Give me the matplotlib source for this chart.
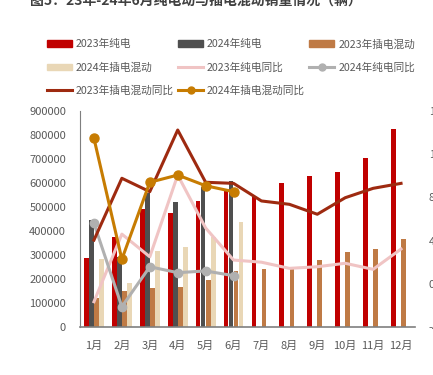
import matplotlib
matplotlib.use("Agg")
import matplotlib.pyplot as plt
import numpy as np
from matplotlib.patches import Patch
from matplotlib.lines import Line2D

plt.rcParams['font.family'] = ['Noto Sans CJK SC', 'DejaVu Sans']

months = ['1月', '2月', '3月', '4月', '5月', '6月', '7月', '8月', '9月', '10月', '11月', '12月']
bev_2023 = [289000, 376000, 492000, 474000, 525000, 568000, 543000, 599000, 629000, 647000, 703000, 825000]
bev_2024 = [446000, 292000, 560000, 520000, 585000, 610000]
phev_2023 = [120000, 150000, 164000, 167000, 196000, 235000, 240000, 244000, 279000, 311000, 325000, 365000]
phev_2024 = [285000, 185000, 318000, 335000, 374000, 439000]
bev_yoy_2023 = [-16.6, 46, 25, 100.7, 51.7, 22, 20, 14.3, 15.8, 19, 13.4, 32.2]
bev_yoy_2024 = [56, -21.2, 15.8, 10.3, 11.9, 7.5]
phev_yoy_2023 = [40.5, 97.7, 85.3, 142.4, 94, 93, 76.7, 73.6, 64.4, 79.7, 88.4, 93]
phev_yoy_2024 = [134.7, 22.7, 94, 100.7, 90.8, 85.3]

left_ticks = [0, 100000, 200000, 300000, 400000, 500000, 600000, 700000, 800000, 900000]
right_ticks = [-40, 0, 40, 80, 120, 160]

c_bev23 = '#C00000'
c_bev24 = '#4F4F4F'
c_phev23 = '#BF7A45'
c_phev24 = '#E9D7B6'
c_bevyoy23 = '#F0C4C4'
c_bevyoy24 = '#B0B0B0'
c_phevyoy23 = '#9E2A10'
c_phevyoy24 = '#C77C02'

fig = plt.figure(figsize=(4.33, 3.75), dpi=100)
ax = fig.add_axes([80/433, 48/375, 335/433, 216/375])
ax2 = ax.twinx()

x = np.arange(len(months))
w = 0.17
step = 0.18
ax.bar(x - 1.5*step, bev_2023, w, color=c_bev23, zorder=2)
ax.bar(x[:len(bev_2024)] - 0.5*step, bev_2024, w, color=c_bev24, zorder=2)
ax.bar(x + 0.5*step, phev_2023, w, color=c_phev23, zorder=2)
ax.bar(x[:len(phev_2024)] + 1.5*step, phev_2024, w, color=c_phev24, zorder=2)

ax2.plot(x, bev_yoy_2023, color=c_bevyoy23, lw=2.2)
ax2.plot(x[:len(bev_yoy_2024)], bev_yoy_2024, color=c_bevyoy24, lw=2.2, marker='o', ms=6)
ax2.plot(x, phev_yoy_2023, color=c_phevyoy23, lw=2.2)
ax2.plot(x[:len(phev_yoy_2024)], phev_yoy_2024, color=c_phevyoy24, lw=2.2, marker='o', ms=6.5)

ax.set_xlim(-0.5, len(months) - 0.5)
ax.set_ylim(0, 900000)
ax2.set_ylim(-40, 160)
ax.set_xticks(x)
ax.set_xticklabels(months)
ax.set_yticks(left_ticks)
ax.set_yticklabels([str(v) for v in left_ticks])
ax2.set_yticks(right_ticks)
ax2.set_yticklabels([f'{v}%' for v in right_ticks])

for a in (ax, ax2):
    for s in ('top', 'right'):
        a.spines[s].set_visible(False)
ax2.spines['left'].set_visible(False)
ax2.spines['bottom'].set_visible(False)
ax.spines['left'].set_color('#7F7F7F')
ax.spines['bottom'].set_color('#7F7F7F')
ax.spines['bottom'].set_linewidth(1.2)
ax.tick_params(axis='both', length=0, labelsize=8, colors='#595959', pad=10)
ax.tick_params(axis='x', pad=10)
ax2.tick_params(axis='y', length=0, labelsize=8, colors='#595959', pad=10)

handles = [
    Patch(color=c_bev23), Patch(color=c_phev24), Line2D([], [], color=c_phevyoy23, lw=2.2),
    Patch(color=c_bev24), Line2D([], [], color=c_bevyoy23, lw=2.2), Line2D([], [], color=c_phevyoy24, lw=2.2, marker='o', ms=5),
    Patch(color=c_phev23), Line2D([], [], color=c_bevyoy24, lw=2.2, marker='o', ms=5),
]
labels = ['2023年纯电', '2024年插电混动', '2023年插电混动同比',
          '2024年纯电', '2023年纯电同比', '2024年插电混动同比',
          '2023年插电混动', '2024年纯电同比']
leg = fig.legend(handles, labels, ncol=3, loc='upper left', bbox_to_anchor=(47/433, 1 - 39/375),
                 frameon=False, fontsize=7.7, handlelength=2.35, handleheight=0.55, handletextpad=0.35,
                 columnspacing=0.4, labelspacing=1.2, borderpad=0, borderaxespad=0)
for t in leg.get_texts():
    t.set_color('#595959')

fig.text(30/433, 1 - 5/375, '图5：23年-24年6月纯电动与插电混动销量情况（辆）', fontsize=10,
         fontweight='bold', color='#404040', ha='left', va='baseline')

fig.savefig('out.png', dpi=100)
